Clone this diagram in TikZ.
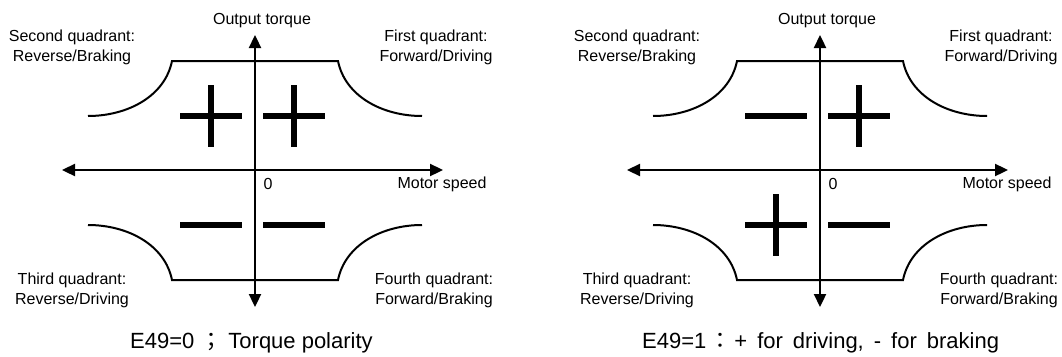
\documentclass[tikz,border=0pt]{standalone}
\usepackage{fontspec}
\setmainfont{Liberation Sans}
\newfontfamily\cjk{Noto Sans CJK JP}
\usetikzlibrary{arrows.meta}

\tikzset{
  axis/.style={line width=2.3pt,
    {Triangle[length=13pt,width=12pt]}-{Triangle[length=13pt,width=12pt]}},
  limit/.style={line width=2pt},
  sign/.style={line width=6.5pt},
  lbl/.style={font=\fontsize{16}{20}\selectfont, align=center, inner sep=0pt},
  captxt/.style={font=\fontsize{22}{26}\selectfont, inner sep=0pt},
  plus/.pic={\draw[sign] (-31,0) -- (31,0) (0,-31) -- (0,31);},
  minus/.pic={\draw[sign] (-31,0) -- (31,0);}
}

% one torque/speed frame: axes, limit curve, quadrant labels
\newcommand{\quadframe}{%
  \coordinate (w) at (62,170);
  \coordinate (e) at (443,170);
  \coordinate (n) at (255,35);
  \coordinate (s) at (255,307);
  \draw[axis] (w) -- (e);
  \draw[axis] (s) -- (n);
  \draw[limit] (88,116) .. controls (128,116) and (165,96) .. (172,61)
    -- (338,61) .. controls (345,96) and (382,116) .. (422,116);
  \draw[limit] (88,225) .. controls (128,225) and (165,245) .. (172,280)
    -- (338,280) .. controls (345,245) and (382,225) .. (422,225);
  \node (torque) [lbl] at (262,21) {Output torque};
  \node (zero)   [lbl] at (268,184) {0};
  \node (speed)  [lbl] at (442,184) {Motor speed};
  \node (q2) [lbl] at (72,47)   {Second quadrant:\\Reverse/Braking};
  \node (q1) [lbl] at (436,47)  {First quadrant:\\Forward/Driving};
  \node (q3) [lbl] at (72,290)  {Third quadrant:\\Reverse/Driving};
  \node (q4) [lbl] at (434,290) {Fourth quadrant:\\Forward/Braking};
}

\begin{document}
\begin{tikzpicture}[x=1pt, y=-1pt]
  \useasboundingbox (0,0) rectangle (1062,356);

  % E49=0
  \begin{scope}[name prefix=L-]
    \quadframe
    \pic at (211,116) {plus};
    \pic at (294,116) {plus};
    \pic at (211,225) {minus};
    \pic at (294,225) {minus};
  \end{scope}
  \node (capL) [captxt, anchor=west] at (130,343)
    {E49=0\hspace{6pt}{\cjk ；}\hspace{6pt}Torque polarity};

  % E49=1
  \begin{scope}[shift={(565,0)}, name prefix=R-]
    \quadframe
    \pic at (211,116) {minus};
    \pic at (294,116) {plus};
    \pic at (211,225) {plus};
    \pic at (294,225) {minus};
  \end{scope}
  \node (capR) [captxt, anchor=west] at (642,343)
    {\spaceskip=10pt E49=1\hspace{3pt}{\cjk ：}\hspace{3pt}+ for driving, - for braking};
\end{tikzpicture}
\end{document}
